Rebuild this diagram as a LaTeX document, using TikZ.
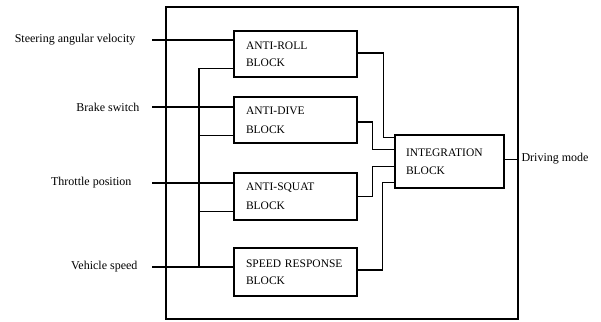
\documentclass[tikz,border=0pt]{standalone}
\usepackage{fontspec}
\setmainfont{Liberation Serif}
\begin{document}
\begin{tikzpicture}[x=1pt,y=-1pt,
  every path/.style={line width=1.1pt},
  blk/.style={draw,line width=1.1pt,minimum height=46pt,text width=99pt,inner xsep=12pt,align=left,font=\fontsize{11.5}{14}\selectfont},
  lbl/.style={inner sep=0pt,font=\fontsize{12}{14}\selectfont}]
\useasboundingbox (0,0) rectangle (601,321);
\node[draw,line width=1.1pt,minimum width=352pt,minimum height=312pt,inner sep=0pt] (frame) at (342,163) {};
\node[blk] (roll) at (295.5,54) {ANTI-ROLL\\[3pt]BLOCK};
\node[blk] (dive) at (295.5,120) {ANTI-DIVE\\[5pt]BLOCK};
\node[blk,minimum height=47pt] (squat) at (295.5,196.5) {ANTI-SQUAT\\[5pt]BLOCK};
\node[blk,minimum height=48pt] (speed) at (295.5,272) {SPEED RESPONSE\\[3pt]BLOCK};
\node[blk,text width=87pt,inner xsep=11pt,minimum height=53pt] (integ) at (449.5,161.5) {INTEGRATION\\[4pt]BLOCK};
% input labels
\node[lbl,anchor=east] (l1) at (136,40) {Steering angular velocity};
\node[lbl,anchor=east] (l2) at (140,107) {Brake switch};
\node[lbl,anchor=east] (l3) at (132,183) {Throttle position};
\node[lbl,anchor=east] (l4) at (138,267) {Vehicle speed};
\node[lbl,anchor=west] (out) at (521,159) {Driving mode};
\coordinate (s1) at (152,40);
\coordinate (s2) at (152,107);
\coordinate (s3) at (152,183);
\coordinate (s4) at (152,267);
\coordinate (bus) at (199,267);
% inputs
\draw (s1) -- (s1 -| roll.west);
\draw (s2) -- (s2 -| dive.west);
\draw (s3) -- (s3 -| squat.west);
\draw (s4) -- (s4 -| speed.west);
% speed bus
\draw ([yshift=9pt]roll.south west) -| (bus);
\draw ([yshift=8pt]dive.south west) -- ++(-35,0);
\draw ([yshift=9pt]squat.south west) -- ++(-35,0);
% outputs to integration
\draw ([yshift=1pt]roll.east) -- ++(26,0) |- ([yshift=-3pt]integ.north west);
\draw ([yshift=-2pt]dive.east) -- ++(15,0) |- ([yshift=-15pt]integ.north west);
\draw (squat.east) -- ++(15,0) |- ([yshift=-32pt]integ.north west);
\draw ([yshift=2pt]speed.east) -- ++(25,0) |- ([yshift=6pt]integ.south west);
\draw ([yshift=2pt]integ.east) -- ++(14,0);
\end{tikzpicture}
\end{document}
